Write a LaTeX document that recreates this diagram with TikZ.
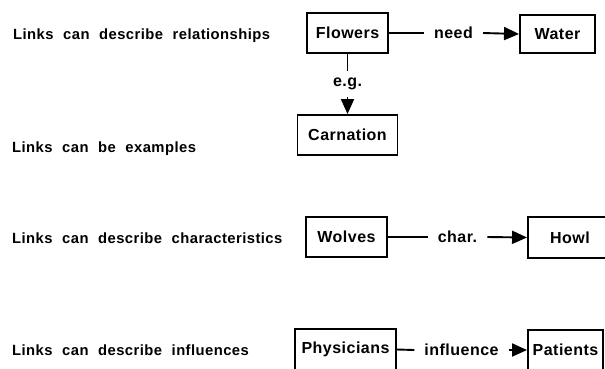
\documentclass[tikz,border=0pt]{standalone}
\usepackage{fontspec}
\setmainfont{Liberation Sans}[BoldFeatures={LetterSpace=3}]
\newfontfamily\leftfont{Liberation Sans}[LetterSpace=3,WordSpace=2.1]
\usetikzlibrary{arrows.meta}
\begin{document}
\begin{tikzpicture}[x=1pt,y=-1pt,
  every node/.style={font=\fontsize{16}{18}\selectfont\bfseries},
  box/.style={draw,line width=1.9pt,inner sep=0pt},
  lbl/.style={inner xsep=10pt,inner ysep=0pt},
  vlbl/.style={inner xsep=0pt,inner ysep=7pt},
  side/.style={anchor=base west,inner sep=0pt,font=\fontsize{14.8}{17}\leftfont\bfseries},
  link/.style={line width=1.9pt},
  arr/.style={line width=1.9pt,-{Triangle[length=15pt,width=13pt]}}]
\useasboundingbox (0,0) rectangle (605,368);
\clip (0,0) rectangle (605,368);
% left captions
\node[side] (t1) at (13,39) {Links can describe relationships};
\node[side] (t2) at (12,152) {Links can be examples};
\node[side] (t3) at (12,243) {Links can describe characteristics};
\node[side] (t4) at (12,355) {Links can describe influences};
% row 1
\node[box,minimum width=81pt,minimum height=40pt] (fl) at (347.5,33) {Flowers};
\node[box,minimum width=75pt,minimum height=38pt] (wa) at (557.5,34) {Water};
\node[lbl] (need) at (453.5,33) {need};
\draw[link] (fl.east) -- (need.west);
\draw[arr] (need.east) -- (wa.west);
% example
\node[box,minimum width=100pt,minimum height=40pt] (ca) at (347.5,135) {Carnation};
\node[vlbl] (eg) at (347.5,84) {e.g.};
\draw[link] (fl.south) -- (eg.north);
\draw[arr] (eg.south) -- (ca.north);
% row 3
\node[box,minimum width=81pt,minimum height=40pt] (wo) at (346.5,237) {Wolves};
\node[box,minimum width=84pt,minimum height=41pt] (ho) at (570,237.5) {Howl};
\node[lbl] (ch) at (457.5,237) {char.};
\draw[link] (wo.east) -- (ch.west);
\draw[arr] (ch.east) -- (ho.west);
% row 4
\node[box,minimum width=101pt,minimum height=41pt] (ph) at (345.5,349.5) {Physicians};
\node[box,minimum width=75pt,minimum height=40pt] (pa) at (565.5,350) {Patients};
\node[lbl] (in) at (461.5,350) {influence};
\draw[link] (ph.east) -- (in.west);
\draw[arr] (in.east) -- (pa.west);
\end{tikzpicture}
\end{document}
